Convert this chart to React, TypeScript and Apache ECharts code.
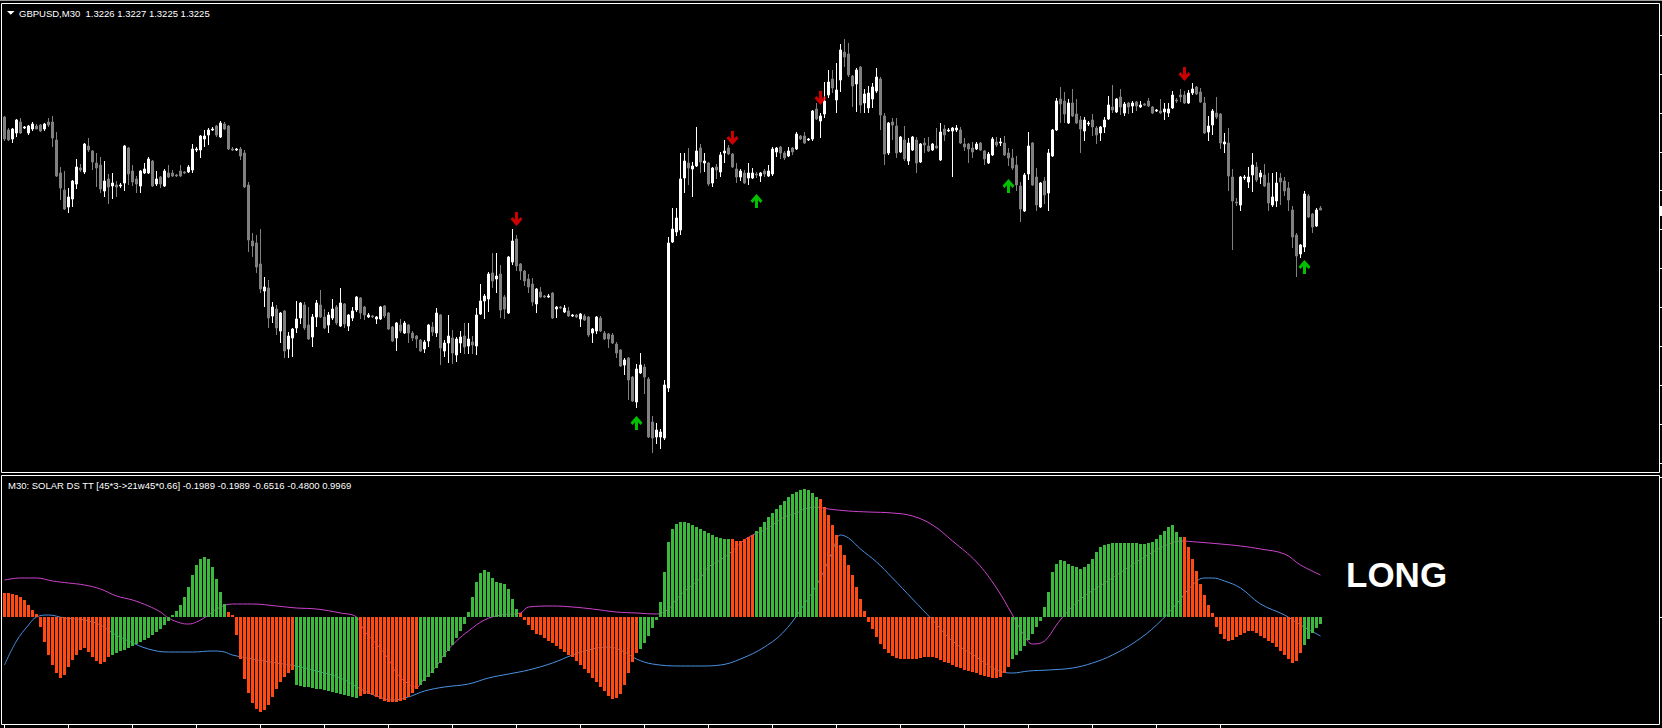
import React, { useEffect, useRef } from "react";
import * as echarts from "echarts";

const symbolTitle = "GBPUSD,M30  1.3226 1.3227 1.3225 1.3225";
const indicatorTitle =
  "M30: SOLAR DS TT [45*3->21w45*0.66] -0.1989 -0.1989 -0.6516 -0.4800 0.9969";
const signalLabel = "LONG";

// GBPUSD M30 bars: [open, close, low, high]
const candles: number[][] = [
  [1.32715,1.32605,1.32595,1.3272],[1.3265,1.326,1.32595,1.3266],[1.32605,1.32655,1.32585,1.3266],[1.32635,1.327,1.32615,1.32705],
  [1.3269,1.32635,1.3263,1.3271],[1.3266,1.32665,1.32655,1.3267],[1.32635,1.3267,1.32625,1.32675],[1.32655,1.3268,1.32645,1.3269],
  [1.3267,1.32655,1.32655,1.3268],[1.32675,1.32645,1.3264,1.3268],[1.32655,1.3268,1.32645,1.32685],[1.3269,1.32675,1.32665,1.3271],
  [1.3269,1.3261,1.32565,1.3272],[1.326,1.3242,1.32415,1.3264],[1.32435,1.3236,1.323,1.32465],[1.3235,1.32255,1.3225,1.32445],
  [1.32265,1.32315,1.32235,1.3236],[1.32305,1.32395,1.32265,1.324],[1.3238,1.32465,1.32355,1.32505],[1.3246,1.3245,1.3244,1.3248],
  [1.3244,1.3258,1.3243,1.32585],[1.3257,1.3255,1.3254,1.3261],[1.32545,1.3249,1.3245,1.3255],[1.32485,1.3246,1.32365,1.32535],
  [1.32475,1.32355,1.32335,1.32515],[1.32345,1.32395,1.32315,1.32495],[1.32405,1.32365,1.3228,1.3243],[1.3237,1.32385,1.32305,1.32435],
  [1.32375,1.32365,1.32315,1.32395],[1.3237,1.32375,1.3236,1.32385],[1.32385,1.3257,1.32345,1.32575],[1.3256,1.3243,1.32375,1.32565],
  [1.32445,1.3239,1.3237,1.32475],[1.32405,1.3238,1.32335,1.3242],[1.3237,1.32445,1.32335,1.3245],[1.32435,1.32455,1.3243,1.32485],
  [1.32435,1.32505,1.3243,1.32515],[1.32495,1.3237,1.32365,1.325],[1.3238,1.32405,1.3237,1.32445],[1.32415,1.3238,1.3236,1.3242],
  [1.3237,1.32445,1.32365,1.32455],[1.32435,1.32415,1.3241,1.32475],[1.32435,1.3242,1.32415,1.3245],[1.32425,1.3242,1.32415,1.3243],
  [1.32445,1.3242,1.32415,1.32475],[1.3244,1.32435,1.3243,1.32445],[1.3244,1.32465,1.32435,1.32475],[1.3245,1.32555,1.32435,1.3258],
  [1.3255,1.32555,1.3254,1.32565],[1.3255,1.3262,1.3251,1.32625],[1.32605,1.3262,1.32565,1.3265],[1.32625,1.3265,1.32575,1.3266],
  [1.3265,1.32655,1.32645,1.32665],[1.3267,1.32625,1.32615,1.32675],[1.32615,1.32685,1.3261,1.32695],[1.3268,1.32655,1.3265,1.3269],
  [1.3267,1.32555,1.3255,1.32675],[1.32555,1.3255,1.32545,1.32565],[1.3255,1.32555,1.32545,1.3256],[1.32555,1.3252,1.325,1.32565],
  [1.32535,1.32365,1.3236,1.3255],[1.32375,1.321,1.3204,1.3239],[1.32095,1.3207,1.32015,1.32135],[1.32085,1.31965,1.31935,1.32125],
  [1.3198,1.31855,1.31835,1.32155],[1.31845,1.31865,1.31765,1.31915],[1.3186,1.3171,1.3166,1.319],[1.3172,1.31765,1.31685,1.3179],
  [1.31755,1.3166,1.31625,1.31775],[1.31645,1.31735,1.31585,1.3174],[1.31745,1.31545,1.3151,1.3175],[1.31555,1.3162,1.3151,1.3164],
  [1.3161,1.31655,1.31515,1.3166],[1.3166,1.31705,1.31635,1.31795],[1.3171,1.31785,1.3168,1.3179],[1.31775,1.3166,1.3165,1.3179],
  [1.31675,1.31605,1.316,1.31765],[1.31615,1.31715,1.31565,1.3173],[1.31715,1.31785,1.31665,1.318],[1.31775,1.31715,1.3171,1.3185],
  [1.31715,1.3166,1.31655,1.31755],[1.31675,1.31725,1.31635,1.3174],[1.3171,1.31755,1.317,1.31805],[1.31765,1.31685,1.31675,1.31775],
  [1.3167,1.31785,1.31665,1.3186],[1.3178,1.3168,1.3166,1.31785],[1.3167,1.31725,1.31645,1.3173],[1.3171,1.31745,1.31695,1.31765],
  [1.3175,1.31815,1.3174,1.3182],[1.3181,1.31735,1.31705,1.31815],[1.31765,1.31725,1.317,1.3177],[1.31715,1.31725,1.3171,1.31735],
  [1.3172,1.31715,1.3171,1.31725],[1.31705,1.31715,1.3168,1.3172],[1.31705,1.31765,1.317,1.3177],[1.3177,1.3172,1.3171,1.31775],
  [1.31735,1.31655,1.3165,1.3174],[1.31665,1.31595,1.3159,1.3167],[1.3161,1.31685,1.31545,1.3169],[1.31675,1.31645,1.31635,1.31705],
  [1.31635,1.31685,1.3163,1.31695],[1.31675,1.31635,1.31585,1.3168],[1.31635,1.3161,1.31595,1.31645],[1.3162,1.31605,1.3156,1.31625],
  [1.316,1.31545,1.3154,1.31605],[1.31555,1.3159,1.31535,1.316],[1.31595,1.31675,1.31565,1.3168],[1.31665,1.3164,1.3162,1.3169],
  [1.31635,1.31735,1.31615,1.3176],[1.31725,1.3156,1.31475,1.3173],[1.31545,1.31585,1.31515,1.316],[1.31585,1.3162,1.31485,1.31725],
  [1.3161,1.31535,1.3148,1.3165],[1.31525,1.31605,1.3149,1.31615],[1.31585,1.31615,1.31535,1.31645],[1.3162,1.31565,1.3153,1.31685],
  [1.3157,1.31605,1.3153,1.31685],[1.3159,1.31575,1.3153,1.3162],[1.3157,1.31725,1.31525,1.3176],[1.3173,1.31795,1.31725,1.3188],
  [1.31795,1.3182,1.31705,1.3183],[1.31805,1.3193,1.3174,1.3194],[1.31935,1.31895,1.3186,1.32035],[1.31905,1.3192,1.31835,1.32035],
  [1.3193,1.3175,1.3171,1.31975],[1.31815,1.31755,1.31705,1.31825],[1.31735,1.32015,1.3173,1.3202],[1.3199,1.32095,1.31975,1.32155],
  [1.32105,1.3197,1.31945,1.32125],[1.3198,1.31945,1.319,1.31985],[1.31945,1.31895,1.3187,1.3195],[1.31905,1.31865,1.31835,1.3193],
  [1.3188,1.3179,1.3177,1.3191],[1.3178,1.31855,1.31735,1.3186],[1.3184,1.31815,1.3181,1.31865],[1.3182,1.31815,1.3181,1.31825],
  [1.31815,1.3182,1.3181,1.3183],[1.31835,1.3171,1.31705,1.3184],[1.31755,1.31765,1.3171,1.3177],[1.31765,1.3176,1.31755,1.3177],
  [1.3174,1.3176,1.31735,1.31775],[1.31745,1.3172,1.31715,1.31765],[1.3172,1.31725,1.31715,1.3173],[1.31725,1.31715,1.3171,1.3173],
  [1.31705,1.3173,1.31665,1.31735],[1.3172,1.317,1.31695,1.3173],[1.31715,1.31625,1.31615,1.3172],[1.31635,1.31655,1.31585,1.3166],
  [1.31645,1.31715,1.3163,1.3172],[1.3171,1.31645,1.3164,1.3172],[1.31635,1.31605,1.316,1.31645],[1.3163,1.31605,1.3156,1.31635],
  [1.31625,1.31585,1.3158,1.31635],[1.3158,1.31535,1.3151,1.3159],[1.3155,1.3147,1.31465,1.31555],[1.31475,1.315,1.31425,1.3151],
  [1.3151,1.314,1.313,1.31515],[1.31415,1.31295,1.3129,1.3142],[1.3129,1.31455,1.3126,1.3148],[1.31435,1.31475,1.3143,1.31535],
  [1.31465,1.31415,1.3133,1.3148],[1.31405,1.31115,1.3111,1.31415],[1.3119,1.3111,1.31035,1.3122],[1.31115,1.3115,1.3108,1.31185],
  [1.31115,1.3114,1.31055,1.31155],[1.3111,1.31375,1.311,1.314],[1.3136,1.32085,1.3134,1.32115],[1.3209,1.32155,1.32085,1.3226],
  [1.3214,1.3221,1.3212,1.3226],[1.3215,1.32405,1.32125,1.32535],[1.3241,1.32495,1.32335,1.32535],[1.32485,1.3246,1.32375,1.3256],
  [1.32455,1.3247,1.32315,1.3249],[1.3247,1.32545,1.32465,1.32665],[1.3256,1.3249,1.32435,1.3258],[1.32485,1.32495,1.3244,1.32535],
  [1.32485,1.3238,1.3237,1.3249],[1.32385,1.3246,1.32365,1.32465],[1.32465,1.3245,1.32405,1.3248],[1.3244,1.32525,1.32415,1.3254],
  [1.32535,1.32545,1.32485,1.326],[1.3256,1.3253,1.32525,1.32575],[1.3253,1.32465,1.3246,1.32535],[1.32455,1.32415,1.32385,1.32485],
  [1.32415,1.32445,1.32395,1.32455],[1.32435,1.32385,1.3238,1.3245],[1.3241,1.32435,1.32375,1.32485],[1.3241,1.32435,1.32405,1.3246],
  [1.3243,1.32425,1.3241,1.3244],[1.3242,1.32435,1.3239,1.3244],[1.32445,1.3243,1.32415,1.32455],[1.3242,1.32445,1.32415,1.32475],
  [1.3243,1.32555,1.3242,1.32565],[1.3254,1.3256,1.32515,1.32565],[1.32565,1.32535,1.32505,1.3257],[1.32535,1.3251,1.325,1.32545],
  [1.3252,1.32545,1.32515,1.32565],[1.3256,1.3254,1.32525,1.32565],[1.32555,1.3263,1.3255,1.3264],[1.3262,1.32605,1.326,1.32625],
  [1.3262,1.32585,1.3258,1.3264],[1.326,1.32605,1.32595,1.3261],[1.32605,1.32745,1.32595,1.3275],[1.32755,1.32705,1.327,1.32785],
  [1.32695,1.3272,1.3261,1.32735],[1.3273,1.32795,1.3271,1.3289],[1.32825,1.3289,1.3281,1.3295],[1.32905,1.3286,1.32835,1.3295],
  [1.328,1.3285,1.32735,1.32985],[1.329,1.3305,1.3284,1.3308],[1.3304,1.33015,1.32965,1.33105],[1.3303,1.32925,1.32915,1.33085],
  [1.3292,1.3287,1.32765,1.32925],[1.3288,1.3295,1.3274,1.3296],[1.32965,1.32775,1.32735,1.3297],[1.32785,1.3283,1.32735,1.32855],
  [1.3276,1.32835,1.32735,1.3287],[1.32805,1.32865,1.3276,1.32885],[1.32845,1.32915,1.32835,1.3296],[1.32905,1.32725,1.3265,1.32915],
  [1.3272,1.3253,1.32475,1.32735],[1.32535,1.32685,1.32525,1.3269],[1.3269,1.32675,1.326,1.3271],[1.3267,1.32535,1.3251,1.3271],
  [1.3254,1.32615,1.32535,1.3262],[1.326,1.32505,1.32495,1.3267],[1.32495,1.32585,1.32475,1.3261],[1.3255,1.32615,1.32545,1.3262],
  [1.326,1.32485,1.32435,1.32615],[1.3249,1.3258,1.32485,1.32585],[1.32585,1.32575,1.32535,1.3261],[1.3257,1.32545,1.3254,1.32615],
  [1.3255,1.3258,1.32545,1.32585],[1.3257,1.3256,1.32555,1.3266],[1.325,1.3264,1.32495,1.32685],[1.32655,1.32625,1.32595,1.32675],
  [1.32645,1.3265,1.3264,1.3266],[1.32645,1.3266,1.32415,1.32665],[1.3265,1.3266,1.3264,1.32675],[1.3265,1.32585,1.3258,1.32665],
  [1.3258,1.32565,1.32545,1.3261],[1.3258,1.32555,1.32485,1.32585],[1.3256,1.3254,1.3251,1.3259],[1.32555,1.3258,1.3255,1.3259],
  [1.32585,1.3255,1.32545,1.3259],[1.32545,1.32505,1.32475,1.3255],[1.32485,1.3253,1.3248,1.3254],[1.32525,1.32605,1.3252,1.32615],
  [1.3259,1.32575,1.32565,1.32615],[1.32585,1.3259,1.3257,1.3261],[1.32585,1.32525,1.3252,1.3262],[1.32535,1.3251,1.3247,1.3256],
  [1.3251,1.3246,1.3245,1.32555],[1.32475,1.32375,1.32345,1.3252],[1.3237,1.32255,1.3219,1.3239],[1.32245,1.32425,1.3224,1.32435],
  [1.3243,1.3257,1.324,1.3264],[1.32585,1.32375,1.3237,1.3259],[1.32415,1.32275,1.32245,1.3246],[1.32265,1.32385,1.3226,1.3239],
  [1.32395,1.32325,1.3228,1.32415],[1.32335,1.32535,1.32245,1.32555],[1.3252,1.3265,1.32515,1.32655],[1.3265,1.32795,1.32645,1.3281],
  [1.32805,1.3278,1.32685,1.32865],[1.32795,1.3273,1.32685,1.3284],[1.32685,1.32785,1.3268,1.32805],[1.32785,1.3272,1.32715,1.32855],
  [1.3273,1.32685,1.3268,1.32805],[1.327,1.32655,1.32535,1.3272],[1.32645,1.327,1.32595,1.32715],[1.3268,1.32685,1.3267,1.32695],
  [1.327,1.32665,1.3262,1.3273],[1.3266,1.32625,1.3258,1.3267],[1.32635,1.32665,1.32595,1.3267],[1.32665,1.327,1.32635,1.32715],
  [1.32705,1.32775,1.327,1.3282],[1.32765,1.3275,1.32735,1.32875],[1.3274,1.32805,1.32735,1.3281],[1.32815,1.32765,1.32725,1.32855],
  [1.32735,1.3278,1.3272,1.3279],[1.32785,1.32765,1.3273,1.3279],[1.3277,1.32785,1.32735,1.32795],[1.3279,1.3277,1.32745,1.32795],
  [1.32765,1.32775,1.3276,1.32795],[1.3278,1.32775,1.3277,1.32785],[1.32795,1.3277,1.32765,1.3281],[1.32765,1.32735,1.3273,1.3277],
  [1.32745,1.3275,1.3274,1.32755],[1.32745,1.32735,1.3273,1.32805],[1.3274,1.32755,1.327,1.32785],[1.32735,1.32755,1.32715,1.32785],
  [1.3276,1.32825,1.32755,1.32845],[1.328,1.32795,1.32785,1.3281],[1.32825,1.32815,1.3279,1.32855],[1.32825,1.32785,1.3278,1.32845],
  [1.32785,1.32835,1.3278,1.3285],[1.32835,1.32855,1.32825,1.32885],[1.32865,1.3283,1.32825,1.3287],[1.3284,1.3279,1.32785,1.3286],
  [1.32785,1.32635,1.3263,1.32815],[1.3264,1.3267,1.32595,1.3272],[1.32675,1.32745,1.32625,1.32755],[1.32735,1.32715,1.32705,1.32815],
  [1.3273,1.32585,1.32555,1.32735],[1.3258,1.3259,1.32535,1.32635],[1.32585,1.3242,1.32345,1.3266],[1.32415,1.32295,1.3205,1.32455],
  [1.3229,1.32285,1.3227,1.3231],[1.32275,1.32415,1.32245,1.3242],[1.3241,1.32415,1.324,1.32425],[1.3239,1.32415,1.3236,1.32465],
  [1.32425,1.32475,1.3234,1.32535],[1.32465,1.324,1.3239,1.3249],[1.32415,1.32435,1.3238,1.3245],[1.32425,1.3237,1.32365,1.3248],
  [1.32385,1.32285,1.32245,1.32435],[1.32275,1.32315,1.32265,1.32435],[1.32295,1.32385,1.32265,1.3244],[1.3241,1.3239,1.32275,1.32435],
  [1.32395,1.32345,1.3232,1.32415],[1.3236,1.323,1.32245,1.3239],[1.3225,1.32115,1.3206,1.3227],[1.32125,1.3202,1.31915,1.32135],
  [1.3203,1.32075,1.3201,1.3208],[1.32065,1.3233,1.3204,1.32345],[1.3232,1.32215,1.3221,1.3233],[1.3223,1.32165,1.32135,1.32235],
  [1.3217,1.3225,1.32165,1.3226],[1.3226,1.3225,1.3225,1.3227],
];

// signal arrows: [bar index, price level]
const sellArrows: number[][] = [[128, 1.32205], [182, 1.3261], [204, 1.3281], [295, 1.3293]];
const buyArrows: number[][] = [[158, 1.31185], [188, 1.32295], [251, 1.3237], [325, 1.31965]];

// SOLAR DS TT histogram, one value per bar
const histValues: number[] = [
  0.24,0.24,0.23,0.22,0.2,0.17,0.12,0.07,0.03,
  -0.1,-0.25,-0.38,-0.48,-0.56,-0.61,-0.58,-0.5,-0.43,-0.38,-0.33,-0.31,-0.35,-0.4,-0.44,-0.47,-0.45,-0.4,
  -0.38,-0.36,-0.34,-0.33,-0.31,-0.29,-0.27,-0.25,-0.23,-0.21,-0.18,-0.15,-0.12,-0.08,-0.04,
  0.02,0.06,0.12,0.2,0.3,0.42,0.52,0.58,0.6,0.58,0.5,0.38,0.25,0.13,
  0.05,0.02,
  -0.18,-0.42,-0.62,-0.76,-0.86,-0.92,-0.95,-0.93,-0.88,-0.8,-0.72,-0.65,-0.6,-0.56,-0.53,
  -0.68,-0.69,-0.7,-0.7,-0.71,-0.72,-0.72,-0.73,-0.74,-0.75,-0.76,-0.77,-0.78,-0.79,-0.8,-0.81,
  -0.79,-0.77,-0.77,-0.78,-0.8,-0.82,-0.84,-0.85,-0.85,-0.85,-0.84,-0.83,-0.8,-0.76,-0.72,
  -0.68,-0.64,-0.6,-0.56,-0.51,-0.46,-0.4,-0.34,-0.28,-0.21,-0.14,-0.07,
  0.05,0.2,0.35,0.44,0.47,0.45,0.39,0.35,0.34,0.33,0.28,0.18,0.08,
  0.04,
  -0.03,-0.08,-0.13,-0.17,-0.18,-0.21,-0.24,-0.26,-0.29,-0.32,-0.35,-0.38,-0.4,-0.44,-0.48,-0.52,-0.56,-0.61,-0.65,-0.7,-0.74,-0.79,-0.82,-0.81,-0.77,-0.68,-0.56,-0.45,-0.36,
  -0.32,-0.26,-0.19,-0.11,-0.03,
  0.15,0.45,0.75,0.88,0.93,0.95,0.95,0.94,0.92,0.9,0.88,0.86,0.84,0.82,0.8,0.79,0.78,0.78,
  0.78,0.76,0.76,0.78,0.8,0.82,
  0.86,0.9,0.95,1.0,1.04,1.08,1.12,1.16,1.2,1.23,1.25,1.27,1.28,1.27,1.24,1.2,
  1.18,1.1,1.02,0.92,0.82,0.72,0.62,0.52,0.42,0.3,0.18,0.06,
  -0.05,-0.12,-0.2,-0.27,-0.32,-0.36,-0.39,-0.41,-0.42,-0.42,-0.42,-0.42,-0.42,-0.41,-0.4,-0.4,-0.4,-0.41,-0.43,-0.45,-0.46,-0.48,-0.5,-0.51,-0.53,-0.54,-0.55,-0.56,-0.58,-0.59,-0.6,-0.61,-0.61,-0.6,-0.56,-0.5,
  -0.42,-0.38,-0.34,-0.29,-0.23,-0.17,-0.1,-0.04,
  0.1,0.25,0.45,0.53,0.57,0.56,0.53,0.51,0.5,0.48,0.5,0.53,0.58,0.65,0.7,0.72,0.73,0.74,0.74,0.74,0.74,0.74,0.74,0.74,0.73,0.73,0.74,0.75,0.78,0.82,0.86,0.9,0.92,0.85,0.8,
  0.8,0.7,0.58,0.46,0.33,0.22,0.12,0.04,
  -0.1,-0.17,-0.22,-0.24,-0.23,-0.2,-0.18,-0.16,-0.14,-0.14,-0.16,-0.19,-0.21,-0.24,-0.26,-0.3,-0.34,-0.38,-0.42,-0.46,-0.44,-0.36,
  -0.28,-0.22,-0.16,-0.11,-0.07,
];

// histogram colour runs: "o" = falling (orange), "g" = rising (green), count of bars
const histColorRuns: [string, number][] = [
  ["o", 27], ["g", 29], ["o", 17], ["g", 16], ["o", 15], ["g", 25], ["o", 30], ["g", 23],
  ["o", 6], ["g", 16], ["o", 48], ["g", 43], ["o", 30], ["g", 5],
];

// signal lines: [bar index, value]
const magentaLine: number[][] = [
  [0,0.37],[4,0.39],[8,0.39],[12,0.36],[16,0.34],[20,0.32],[24,0.28],[28,0.21],[32,0.17],[36,0.11],[39,0.05],
  [41,-0.01],[44,-0.06],[46,-0.07],[48,-0.05],[51,0.02],[53,0.08],[57,0.13],[62,0.13],[68,0.11],[73,0.09],
  [78,0.08],[84,0.04],[88,0.0],[90,-0.14],[93,-0.27],[96,-0.42],[98,-0.56],[101,-0.67],[103,-0.7],[105,-0.61],
  [108,-0.49],[110,-0.37],[113,-0.24],[116,-0.14],[120,-0.03],[124,0.02],[129,0.04],[131,0.1],[137,0.11],
  [142,0.1],[147,0.08],[153,0.05],[158,0.04],[163,0.03],[166,0.08],[168,0.18],[171,0.29],[174,0.39],[176,0.5],
  [179,0.57],[182,0.66],[184,0.74],[187,0.82],[190,0.87],[192,0.92],[195,1.0],[198,1.04],[200,1.08],[203,1.1],
  [206,1.08],[211,1.06],[216,1.05],[222,1.04],[227,1.01],[232,0.92],[237,0.76],[243,0.55],[248,0.29],[252,0.02],
  [255,-0.19],[257,-0.27],[260,-0.24],[263,-0.08],[265,0.02],[269,0.18],[275,0.34],[280,0.47],[285,0.6],
  [290,0.71],[294,0.76],[298,0.75],[304,0.73],[309,0.71],[314,0.68],[320,0.63],[324,0.52],[329,0.42],
];
const blueLine: number[][] = [
  [0,-0.48],[3,-0.24],[6,-0.08],[8,0.0],[11,0.02],[15,-0.01],[20,-0.03],[24,-0.08],[27,-0.16],[31,-0.24],
  [36,-0.32],[41,-0.35],[47,-0.35],[52,-0.34],[55,-0.35],[57,-0.38],[62,-0.42],[68,-0.46],[73,-0.49],[78,-0.54],
  [84,-0.61],[89,-0.72],[93,-0.79],[97,-0.83],[101,-0.8],[105,-0.74],[110,-0.7],[116,-0.67],[121,-0.61],
  [126,-0.57],[131,-0.53],[137,-0.46],[142,-0.38],[147,-0.32],[151,-0.3],[155,-0.35],[158,-0.42],[162,-0.47],
  [169,-0.49],[174,-0.49],[179,-0.48],[184,-0.42],[190,-0.3],[195,-0.14],[200,0.13],[204,0.39],[207,0.66],
  [209,0.82],[211,0.79],[214,0.68],[218,0.55],[222,0.39],[227,0.18],[232,-0.03],[237,-0.24],[243,-0.4],
  [248,-0.53],[252,-0.56],[256,-0.54],[261,-0.53],[267,-0.51],[272,-0.46],[277,-0.38],[283,-0.24],[288,-0.08],
  [293,0.13],[297,0.32],[300,0.39],[302,0.39],[305,0.36],[309,0.29],[314,0.13],[320,0.02],[324,-0.08],[329,-0.19],
];

const BULL = "#ffffff";
const BEAR = "#808080";
const HIST_UP = "#3cb83c";
const HIST_DOWN = "#ff4a12";
const LINE_MAGENTA = "#cc44cc";
const LINE_BLUE = "#4a90e2";

const ARROW_DOWN = "path://M4.5,0 L7.5,0 L7.5,7 L10,4.5 L12,6.5 L6,12.5 L0,6.5 L2,4.5 L4.5,7 Z";
const ARROW_UP = "path://M4.5,12.5 L7.5,12.5 L7.5,5.5 L10,8 L12,6 L6,0 L0,6 L2,8 L4.5,5.5 Z";

export default function App() {
  const ref = useRef<HTMLDivElement>(null);

  useEffect(() => {
    document.body.style.margin = "0";
    const chart = echarts.init(ref.current!, null, { renderer: "svg" });

    const categories = candles.map((_, i) => String(i));
    const histColors: string[] = [];
    histColorRuns.forEach(([c, n]) => {
      for (let k = 0; k < n; k++) histColors.push(c);
    });
    const histData = histValues.map((v, i) => ({
      value: v,
      itemStyle: { color: histColors[i] === "g" ? HIST_UP : HIST_DOWN },
    }));

    const plotLeft = 2.5;
    const barStep = 4;
    const plotWidth = candles.length * barStep;

    const graphics: any[] = [
      { type: "line", shape: { x1: 0, y1: 0.5, x2: 1662, y2: 0.5 }, style: { stroke: "#a0a0a0", lineWidth: 1 } },
      { type: "rect", shape: { x: 1.5, y: 3.5, width: 1658, height: 469 }, style: { fill: "none", stroke: "#ffffff", lineWidth: 1 } },
      { type: "rect", shape: { x: 1.5, y: 475.5, width: 1658, height: 249 }, style: { fill: "none", stroke: "#ffffff", lineWidth: 1 } },
      { type: "polygon", shape: { points: [[7, 11], [14.5, 11], [10.75, 14.8]] }, style: { fill: "#ffffff" } },
      {
        type: "text",
        style: { text: symbolTitle, x: 19, y: 13, fill: "#ffffff", font: '9.5px "Liberation Sans", Arial, sans-serif', verticalAlign: "middle" },
      },
      {
        type: "text",
        style: { text: indicatorTitle, x: 8, y: 485, fill: "#ffffff", font: '9.5px "Liberation Sans", Arial, sans-serif', verticalAlign: "middle" },
      },
      {
        type: "text",
        style: { text: signalLabel, x: 1346, y: 574, fill: "#ffffff", font: 'bold 35px "Liberation Sans", Arial, sans-serif', verticalAlign: "middle" },
      },
    ];
    // time-scale ticks every 16 bars
    for (let b = 0; b < candles.length - 16; b += 16) {
      const x = plotLeft + barStep * b + 2;
      graphics.push({ type: "line", shape: { x1: x, y1: 725, x2: x, y2: 728 }, style: { stroke: "#ffffff", lineWidth: 1 } });
    }
    // price-scale ticks at the right edge
    [35, 74, 113, 152, 190, 229, 268, 307, 346, 385, 424, 463, 477, 617].forEach((y) => {
      graphics.push({ type: "line", shape: { x1: 1660, y1: y + 0.5, x2: 1662, y2: y + 0.5 }, style: { stroke: "#ffffff", lineWidth: 1 } });
    });
    graphics.push({ type: "rect", shape: { x: 1660, y: 206, width: 2, height: 10 }, style: { fill: "#ffffff" } });

    chart.setOption({
      animation: false,
      backgroundColor: "#000000",
      grid: [
        { left: plotLeft, top: 4, width: plotWidth, height: 468 },
        { left: plotLeft, top: 476, width: plotWidth, height: 249 },
      ],
      xAxis: [
        { type: "category", gridIndex: 0, data: categories, show: false, boundaryGap: true },
        { type: "category", gridIndex: 1, data: categories, show: false, boundaryGap: true },
      ],
      yAxis: [
        { type: "value", gridIndex: 0, min: 1.3094, max: 1.3328, show: false, splitLine: { show: false } },
        { type: "value", gridIndex: 1, min: -1.08, max: 1.41, show: false, splitLine: { show: false } },
      ],
      series: [
        {
          type: "candlestick",
          xAxisIndex: 0,
          yAxisIndex: 0,
          data: candles,
          barWidth: 2,
          silent: true,
          itemStyle: { color: BULL, color0: BEAR, borderColor: BULL, borderColor0: BEAR, borderWidth: 1 },
        },
        {
          type: "scatter",
          xAxisIndex: 0,
          yAxisIndex: 0,
          data: sellArrows,
          symbol: ARROW_DOWN,
          symbolSize: [12, 14],
          silent: true,
          itemStyle: { color: "#ff0000" },
        },
        {
          type: "scatter",
          xAxisIndex: 0,
          yAxisIndex: 0,
          data: buyArrows,
          symbol: ARROW_UP,
          symbolSize: [12, 14],
          silent: true,
          itemStyle: { color: "#00f000" },
        },
        {
          type: "line",
          xAxisIndex: 1,
          yAxisIndex: 1,
          data: magentaLine,
          symbol: "none",
          smooth: 0.4,
          silent: true,
          z: 1,
          lineStyle: { color: LINE_MAGENTA, width: 1 },
        },
        {
          type: "line",
          xAxisIndex: 1,
          yAxisIndex: 1,
          data: blueLine,
          symbol: "none",
          smooth: 0.4,
          silent: true,
          z: 1,
          lineStyle: { color: LINE_BLUE, width: 1 },
        },
        {
          type: "bar",
          xAxisIndex: 1,
          yAxisIndex: 1,
          data: histData,
          barWidth: 3,
          silent: true,
          z: 2,
        },
      ],
      graphic: graphics,
    });

    return () => chart.dispose();
  }, []);

  return (
    <div
      ref={ref}
      style={{ position: "fixed", left: 0, top: 0, width: 1662, height: 728, background: "#000000" }}
    />
  );
}
